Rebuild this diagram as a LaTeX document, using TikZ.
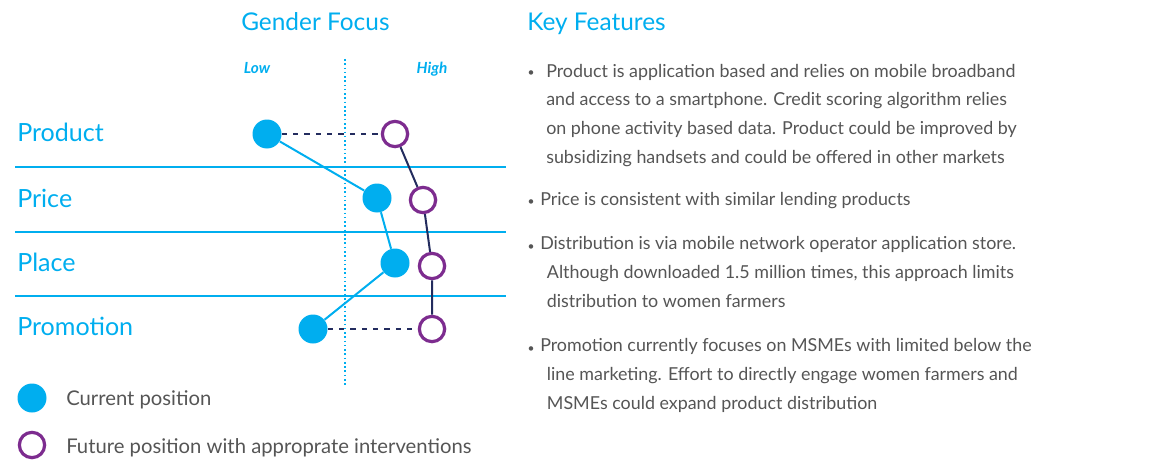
\documentclass[tikz,border=0pt]{standalone}
\usepackage{fontspec}
\setmainfont{Lato}
\usepackage{xcolor}
\usetikzlibrary{positioning}

\definecolor{gfblue}{HTML}{00AEEF}
\definecolor{gfpurple}{HTML}{7D2C8F}
\definecolor{gfnavy}{HTML}{232C5E}
\definecolor{gfgray}{HTML}{555555}

\begin{document}
\begin{tikzpicture}[x=0.75pt, y=-0.75pt,
    current/.style={circle, fill=gfblue, minimum size=21.75pt, inner sep=0pt},
    future/.style={circle, draw=gfpurple, line width=2.4pt, fill=white, minimum size=19pt, inner sep=0pt},
    rowlabel/.style={anchor=base west, font=\fontsize{18.8}{20}\selectfont, text=gfblue, inner sep=0pt},
    heading/.style={anchor=base west, font=\fontsize{18.3}{20}\selectfont, text=gfblue, inner sep=0pt},
    axis/.style={anchor=base, font=\fontsize{11.5}{12}\selectfont\bfseries\itshape, text=gfblue, inner sep=0pt},
    body/.style={anchor=base west, align=left, font=\fontsize{13.4}{21.4}\selectfont, text=gfgray, inner sep=0pt},
    legend/.style={anchor=base west, font=\fontsize{15.2}{18}\selectfont, text=gfgray, inner sep=0pt},
    bullet/.style={anchor=base, font=\fontsize{9}{10}\selectfont, text=gfgray, inner sep=0pt},
    rowline/.style={gfblue, line width=1.1pt},
]
\useasboundingbox (0,0) rectangle (1174,460);

% Headings
\node[heading] (gender) at (241,31) {Gender Focus};
\node[heading] (keyfeat) at (527,31) {Key Features};
\node[axis] (low) at (257,74) {Low};
\node[axis] (high) at (432,74) {High};

% Centre line and row separators
\draw[gfblue, line width=1.2pt, dotted] (345,59) -- (345,385);
\foreach \y in {167,232,296} {
    \draw[rowline] (15,\y) -- (506,\y);
}

% Row labels
\node[rowlabel] (lproduct) at (17,142) {Product};
\node[rowlabel] (lprice) at (17,207) {Price};
\node[rowlabel] (lplace) at (17,271) {Place};
\node[rowlabel] (lpromotion) at (17,335) {Promotion};

% Current and future positions
\node[current] (cproduct) at (267,134) {};
\node[current] (cprice) at (377,198) {};
\node[current] (cplace) at (395,263) {};
\node[current] (cpromotion) at (313,329) {};
\node[future] (fproduct) at (395,134) {};
\node[future] (fprice) at (423,200) {};
\node[future] (fplace) at (432,266) {};
\node[future] (fpromotion) at (432,329) {};

% Connections
\draw[gfblue, line width=1.5pt] (cproduct) -- (cprice) -- (cplace) -- (cpromotion);
\draw[gfnavy, line width=1.5pt] (fproduct) -- (fprice) -- (fplace) -- (fpromotion);
\foreach \row in {product, promotion} {
    \draw[gfnavy, line width=1.5pt, dash pattern=on 4pt off 4.5pt] (c\row) -- (f\row);
}

% Legend
\node[current] (legcur) at (32,398) {};
\node[future] (legfut) at (32,445) {};
\node[legend] (legcurtext) at (66,405) {Current position};
\node[legend] (legfuttext) at (66,453) {Future position with approprate interventions};

% Key features (multi-line nodes sit on their last baseline)
\node[bullet] (dot1) at (531,77) {•};
\node[body] (feat1) at (546,163) {Product is application based and relies on mobile broadband\\and access to a smartphone. Credit scoring algorithm relies\\on phone activity based data. Product could be improved by\\subsidizing handsets and could be offered in other markets};
\node[bullet] (dot2) at (531,205) {•};
\node[body] (feat2) at (540,205) {Price is consistent with similar lending products};
\node[bullet] (dot3) at (531,250) {•};
\node[body] (feat3) at (540,307) {Distribution is via mobile network operator application store.\\\hspace*{5pt}Although downloaded 1.5 million times, this approach limits\\\hspace*{5pt}distribution to women farmers};
\node[bullet] (dot4) at (531,352) {•};
\node[body] (feat4) at (540,409) {Promotion currently focuses on MSMEs with limited below the\\\hspace*{5pt}line marketing. Effort to directly engage women farmers and\\\hspace*{5pt}MSMEs could expand product distribution};
\end{tikzpicture}
\end{document}
